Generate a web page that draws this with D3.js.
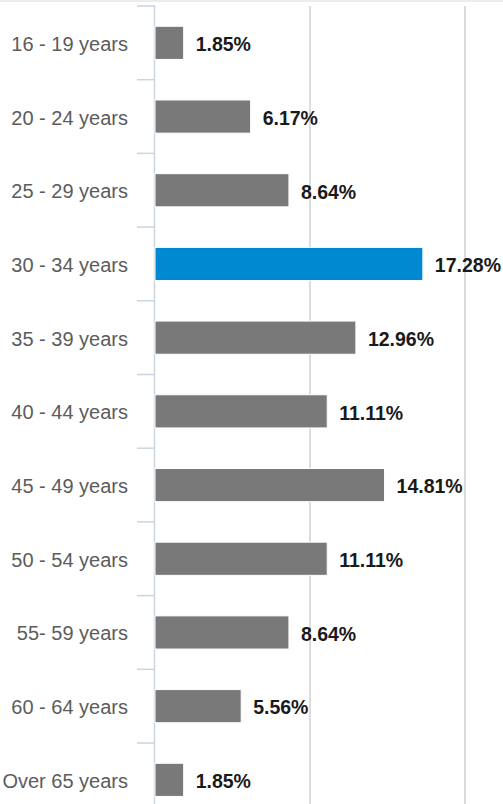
<!DOCTYPE html>
<html>
<head>
<meta charset="utf-8">
<script src="https://cdn.jsdelivr.net/npm/d3@7"></script>
<style>
  body { margin: 0; background: #fff; }
  svg { display: block; }
</style>
</head>
<body>
<svg class="agechart" width="503" height="804"></svg>
<script>
window.onload = function(){

    // data
    var categories = ["16 - 19 years", "20 - 24 years", "25 - 29 years", "30 - 34 years",
                      "35 - 39 years", "40 - 44 years", "45 - 49 years", "50 - 54 years",
                      "55- 59 years", "60 - 64 years", "Over 65 years"]
    var values = [1.85, 6.17, 8.64, 17.28, 12.96, 11.11, 14.81, 11.11, 8.64, 5.56, 1.85]
    var highlighted = ["30 - 34 years"]
    var gridTicks = [10, 20]

    var width = 503
    var height = 804
    var left = 155
    var top = 6
    var step = 73.7

    var svg = d3.select(".agechart")

    // thin shadow line along the top edge
    svg.append("rect").attr("x", 0).attr("y", 0).attr("width", width).attr("height", 2)
        .attr("fill", "#ececec")

    var x = d3.scaleLinear().domain([0, 22.45]).range([left, width])
    var y = d3.scaleBand().domain(categories)
        .range([top, top + step * categories.length])
        .paddingInner(0.55).paddingOuter(0.275)

    // vertical grid lines
    svg.append("g").selectAll("line").data(gridTicks).enter().append("line")
        .attr("x1", function(d){ return x(d) }).attr("x2", function(d){ return x(d) })
        .attr("y1", top).attr("y2", height)
        .attr("stroke", "#dcdcdc").attr("stroke-width", 2)

    // category axis: line, boundary ticks, labels
    var axis = svg.append("g")
    axis.append("line").attr("x1", left - 0.5).attr("x2", left - 0.5)
        .attr("y1", top - 1).attr("y2", height)
        .attr("stroke", "#c9d5e2").attr("stroke-width", 1.5)

    axis.selectAll(".tick").data(categories).enter().append("line")
        .attr("x1", left - 18).attr("x2", left)
        .attr("y1", function(d){ return y(d) - y.step() * 0.275 })
        .attr("y2", function(d){ return y(d) - y.step() * 0.275 })
        .attr("stroke", "#c9d5e2").attr("stroke-width", 1.5)

    axis.selectAll("text").data(categories).enter().append("text")
        .attr("x", 128)
        .attr("y", function(d){ return y(d) + y.bandwidth() / 2 + 1 })
        .attr("dy", "0.35em")
        .attr("text-anchor", "end")
        .attr("font-family", "Liberation Sans, Arial, sans-serif")
        .attr("font-size", 20)
        .attr("fill", "#5c5c5c")
        .text(function(d){ return d })

    // bars
    var rows = categories.map(function(c, i){ return { cat: c, value: values[i] } })
    svg.append("g").selectAll("rect").data(rows).enter().append("rect")
        .attr("x", x(0))
        .attr("y", function(d){ return y(d.cat) })
        .attr("width", function(d){ return x(d.value) - x(0) })
        .attr("height", y.bandwidth())
        .attr("fill", function(d){ return highlighted.indexOf(d.cat) >= 0 ? "#0089d1" : "#797979" })
        .attr("stroke", "#ffffff").attr("stroke-width", 1)

    // value labels
    svg.append("g").selectAll("text").data(rows).enter().append("text")
        .attr("x", function(d){ return x(d.value) + 12 })
        .attr("y", function(d){ return y(d.cat) + y.bandwidth() / 2 + 1.5 })
        .attr("dy", "0.35em")
        .attr("font-family", "Liberation Sans, Arial, sans-serif")
        .attr("font-size", 19.5)
        .attr("font-weight", "bold")
        .attr("fill", "#1a1a1a")
        .text(function(d){ return d.value.toFixed(2) + "%" })

}
</script>
</body>
</html>
